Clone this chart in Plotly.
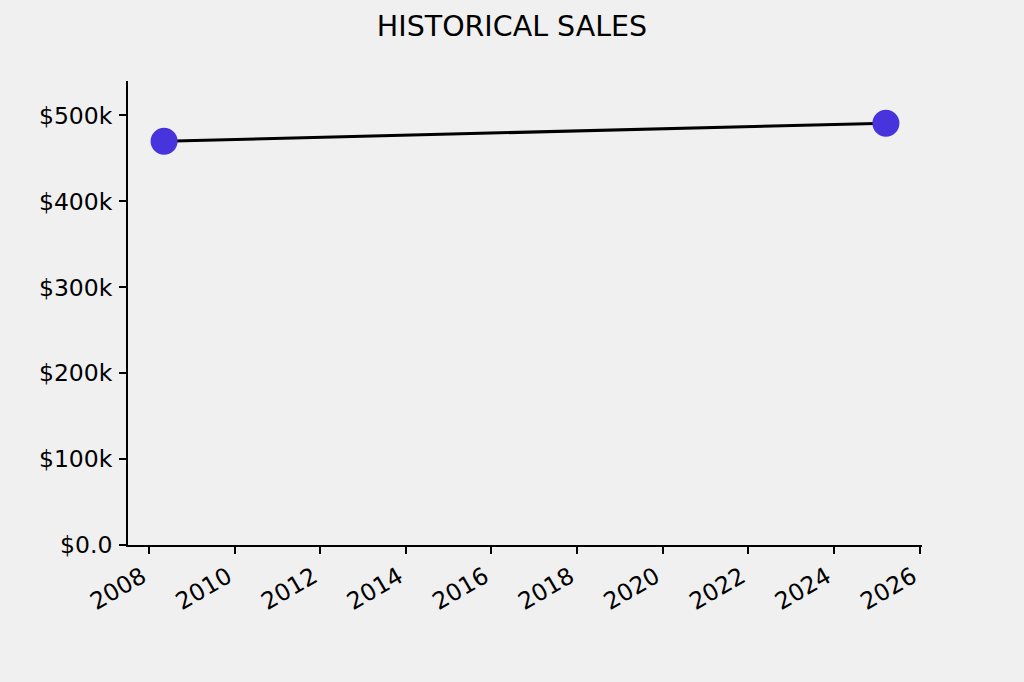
import plotly.graph_objects as go
import pandas as pd

# Data
dates = ["2008-05-08", "2025-03-20"]
sales = [470000, 491000]
ytick_vals = [0, 100000, 200000, 300000, 400000, 500000]
ytick_text = ["$0.0", "$100k", "$200k", "$300k", "$400k", "$500k"]
title_text = "HISTORICAL SALES"

d = pd.to_datetime(dates)
span = d.max() - d.min()
xr = [(d.min() - span * 0.05).strftime("%Y-%m-%d %H:%M"), (d.max() + span * 0.05).strftime("%Y-%m-%d %H:%M")]
yr = [0, max(sales) * 1.1]

fig = go.Figure()
fig.add_trace(go.Scatter(
    x=dates, y=sales, mode="lines+markers",
    line=dict(color="black", width=3),
    marker=dict(color="#4834DC", size=27, line=dict(width=0)),
    showlegend=False,
))

font = "DejaVu Sans"
fs = 23.5
fig.update_layout(
    width=1024, height=682,
    paper_bgcolor="#f0f0f0", plot_bgcolor="#f0f0f0",
    margin=dict(l=128, r=102, t=81, b=137),
    title=dict(text=title_text, x=0.5, xanchor="center", y=1 - 26 / 682, yanchor="middle",
               font=dict(family=font, size=28.5, color="black")),
    font=dict(family=font, size=fs, color="black"),
)
fig.update_xaxes(
    type="date", range=xr, tick0="2008-01-01", dtick="M24", tickformat="%Y",
    tickangle=-30, ticks="outside", ticklen=7, tickwidth=1.6, tickcolor="black",
    ticklabelshift=-7,
    showline=True, linecolor="black", linewidth=1.8, showgrid=False, zeroline=False,
    tickfont=dict(family=font, size=fs, color="black"),
)
fig.update_yaxes(
    range=yr, tickvals=ytick_vals, ticktext=ytick_text,
    ticks="outside", ticklen=7, tickwidth=1.6, tickcolor="black",
    ticklabelstandoff=2,
    showline=True, linecolor="black", linewidth=1.8, showgrid=False, zeroline=False,
    tickfont=dict(family=font, size=fs, color="black"),
)
fig.write_html("out.html", config={"displayModeBar": False},
               post_script="document.body.style.margin='0';")
